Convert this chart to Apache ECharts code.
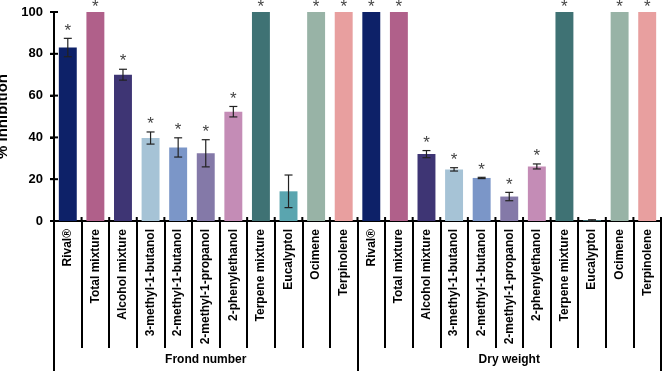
<!DOCTYPE html>
<html>
<head>
<meta charset="UTF-8">
<script src="https://cdn.jsdelivr.net/npm/echarts@6/dist/echarts.min.js"></script>
<style>
  html, body { margin: 0; padding: 0; background: #fff; }
  #chart { width: 662px; height: 371px; }
</style>
</head>
<body>
<div id="chart"></div>
<script>
// treatments (same order in both groups)
const treatments = ['Rival®', 'Total mixture', 'Alcohol mixture', '3-methyl-1-butanol',
  '2-methyl-1-butanol', '2-methyl-1-propanol', '2-phenylethanol', 'Terpene mixture',
  'Eucalyptol', 'Ocimene', 'Terpinolene'];
const groups = ['Frond number', 'Dry weight'];
const yTicks = [0, 20, 40, 60, 80, 100];

// % inhibition
const frondVals = [83, 100, 70, 39.7, 35.2, 32.4, 52.3, 100, 14.2, 100, 100];
const frondErr  = [4.4, 0, 2.6, 2.9, 4.6, 6.5, 2.5, 0, 7.8, 0, 0];
const dryVals   = [100, 100, 32, 24.7, 20.6, 11.7, 26.1, 100, 0.3, 100, 100];
const dryErr    = [0, 0, 1.7, 0.8, 0.3, 2.0, 1.2, 0, 0.3, 0, 0];
// significance marks (*)
const frondSig  = [1, 1, 1, 1, 1, 1, 1, 1, 0, 1, 1];
const drySig    = [1, 1, 1, 1, 1, 1, 1, 1, 0, 1, 1];

const colors = ['#0d2168', '#b0608a', '#3e3574', '#a6c3d6', '#7b96c8', '#8479a8',
  '#c48cb6', '#3f7274', '#5aa5af', '#98b3a6', '#e89f9f'];

const cats = treatments.concat(treatments).map((t, i) => i + '|' + t);
const vals = frondVals.concat(dryVals);
const errs = frondErr.concat(dryErr);
const sig = frondSig.concat(drySig);

const chart = echarts.init(document.getElementById('chart'));
const font = 'Liberation Sans, Arial, sans-serif';
const black = { color: '#000', width: 2 };

chart.setOption({
  animation: false,
  grid: { left: 54, right: 1, top: 12, bottom: 150, containLabel: false, outerBoundsMode: 'none' },
  xAxis: [
    {
      type: 'category', data: cats, position: 'bottom',
      axisLine: { show: true, lineStyle: black },
      axisTick: { show: true, length: 127, lineStyle: black },
      axisLabel: {
        interval: 0, rotate: 90, margin: 8,
        fontFamily: font, fontWeight: 'bold', fontSize: 12, color: '#000',
        formatter: v => v.split('|')[1]
      }
    },
    {
      // group separators and group names
      type: 'category', data: groups, position: 'bottom',
      axisLine: { show: false },
      axisTick: { show: true, length: 150, lineStyle: black },
      axisLabel: {
        show: true, margin: 133, fontFamily: font, fontWeight: 'bold', fontSize: 12, color: '#000'
      }
    }
  ],
  yAxis: {
    type: 'value', min: 0, max: 100, interval: 20,
    name: '% Inhibition', nameLocation: 'middle', nameGap: 33,
    nameTextStyle: { fontFamily: font, fontWeight: 'bold', fontSize: 15, color: '#000' },
    axisLine: { show: true, lineStyle: black },
    axisTick: { show: true, length: 4, lineStyle: black },
    axisLabel: { show: true, margin: 11, fontFamily: font, fontWeight: 'bold', fontSize: 13, color: '#000' },
    splitLine: { show: false }
  },
  series: [
    {
      type: 'bar', barCategoryGap: '35%',
      data: vals.map((v, i) => ({ value: v, itemStyle: { color: colors[i % colors.length] } }))
    },
    {
      // error bars and significance stars
      type: 'custom', z: 5,
      data: vals.map((v, i) => [i, v, errs[i], sig[i]]),
      renderItem: function (params, api) {
        const i = api.value(0), v = api.value(1), e = api.value(2), s = api.value(3);
        const top = api.coord([i, v + e]);
        const bot = api.coord([i, v - e]);
        const cap = 4;
        const kids = [];
        if (e > 0) {
          const st = { stroke: '#222', lineWidth: 1.2 };
          kids.push({ type: 'line', shape: { x1: top[0], y1: top[1], x2: bot[0], y2: bot[1] }, style: st });
          kids.push({ type: 'line', shape: { x1: top[0] - cap, y1: top[1], x2: top[0] + cap, y2: top[1] }, style: st });
          kids.push({ type: 'line', shape: { x1: bot[0] - cap, y1: bot[1], x2: bot[0] + cap, y2: bot[1] }, style: st });
        }
        if (s) {
          kids.push({
            type: 'text',
            style: {
              text: '*', x: top[0], y: Math.max(top[1] - 16, -1),
              align: 'center', verticalAlign: 'top',
              fill: '#444', font: '17px ' + font
            }
          });
        }
        return { type: 'group', children: kids };
      }
    },
    {
      // y axis line with crossing ticks, plus short marks above the x axis
      type: 'custom', z: 10, silent: true, clip: false,
      data: yTicks.map(t => [0, t]),
      renderItem: function (params, api) {
        const cs = params.coordSys;
        const st = { stroke: '#000', lineWidth: 2 };
        const y = api.coord([0, api.value(1)])[1];
        const kids = [{ type: 'line', shape: { x1: cs.x - 4, y1: y, x2: cs.x + 4, y2: y }, style: st }];
        if (params.dataIndex === 0) {
          kids.push({ type: 'line', shape: { x1: cs.x, y1: cs.y - 1, x2: cs.x, y2: cs.y + cs.height }, style: st });
          const bw = cs.width / cats.length;
          for (let k = 0; k <= cats.length; k++) {
            const x = cs.x + k * bw;
            kids.push({ type: 'line', shape: { x1: x, y1: cs.y + cs.height - 4, x2: x, y2: cs.y + cs.height }, style: st });
          }
        }
        return { type: 'group', children: kids };
      }
    }
  ]
});
</script>
</body>
</html>
